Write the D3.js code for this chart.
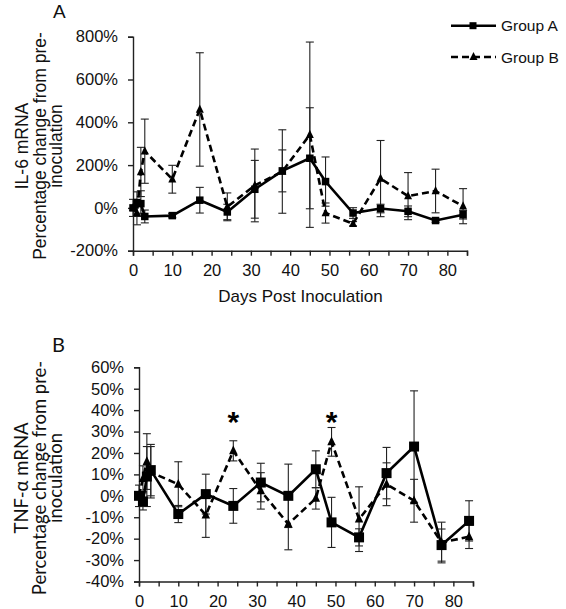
<!DOCTYPE html>
<html><head><meta charset="utf-8">
<script src="https://cdn.jsdelivr.net/npm/d3@7"></script>
<style>body{margin:0;background:#fff}svg{display:block}</style>
</head><body>
<svg id="c" width="566" height="609"></svg>
<script>
const days = [0,1,2,3,10,17,24,31,38,45,49,56,63,70,77,84];
const seriesNames = ["Group A","Group B"];
// Panel A: IL-6 mRNA (% change)
const il6A    = [0, 25, 20, -40, -36, 36, -19, 87, 173, 232, 123, -24, -3, -16, -59, -32];
const il6AErr = [40, 50, 60, 30, 10, 60, 36, 135, 98, 236, 115, 25, 20, 25, 8, 20];
const il6B    = [0, -24, 168, 265, 134, 460, 5, 105, 170, 342, -24, -74, 137, 55, 79, 8];
const il6BErr = [0, 55, 115, 150, 65, 265, 65, 170, 195, 433, 47, 10, 178, 110, 102, 82];
// Panel B: TNF-alpha mRNA (% change)
const tnfA    = [0, -2.6, 9, 12, -8.5, 0.8, -4.7, 6.2, 0, 12.4, -12.4, -19.4, 10.6, 23, -23, -11.7];
const tnfAErr = [5, 4, 14, 12, 4, 9.3, 8.1, 9, 14.8, 8.6, 11.7, 4, 12, 26, 7.5, 9.4];
const tnfB    = [0, 8, 16, 11, 5.4, -9, 21, 2.3, -13.2, -1.2, 25.2, -10.9, 5.4, -2.3, -21.8, -19.1];
const tnfBErr = [0, 6, 13, 12, 10.5, 10.4, 4.7, 8.5, 12, 5, 6.7, 15.1, 10, 10, 9.5, 5.5];
const sigDays = [24, 49];
const xTicks = [0,5,10,15,20,25,30,35,40,45,50,55,60,65,70,75,80,85];
const il6Ticks = [-200,0,200,400,600,800];
const tnfTicks = [-40,-30,-20,-10,0,10,20,30,40,50,60];

const svg = d3.select("#c");
const FONT = "'Liberation Sans', Arial, sans-serif";

function panel(opt){
  const x = d3.scaleLinear().domain([0,85]).range(opt.xr);
  const y = d3.scaleLinear().domain(opt.yd).range(opt.yr);
  const g = svg.append("g");
  const xa = g.append("g").attr("transform",`translate(0,${opt.yr[0]})`)
    .call(d3.axisBottom(x).tickValues(xTicks).tickSizeOuter(0).tickSize(5).tickPadding(9)
      .tickFormat(d => d % 10 === 0 ? d : ""));
  const ya = g.append("g").attr("transform",`translate(${opt.xr[0]},0)`)
    .call(d3.axisLeft(y).tickValues(opt.yticks).tickSizeOuter(0).tickSize(5).tickPadding(10)
      .tickFormat(d => d + "%"));
  [xa,ya].forEach(a=>{
    a.selectAll("path,line").attr("stroke","#222").attr("stroke-width",1.4);
    a.selectAll("text").attr("font-family",FONT).attr("font-size",16.5).attr("fill","#111");
  });
  const data = [
    {m:opt.a, e:opt.ae, dash:null, mark:"square"},
    {m:opt.b, e:opt.be, dash:"7,4", mark:"triangle"}
  ];
  data.forEach(s=>{
    days.forEach((d,i)=>{
      if(!s.e[i]) return;
      const cx = x(d), y1 = y(s.m[i]+s.e[i]), y2 = y(s.m[i]-s.e[i]);
      g.append("line").attr("x1",cx).attr("x2",cx).attr("y1",y1).attr("y2",y2)
        .attr("stroke","#222").attr("stroke-width",1.1);
      [y1,y2].forEach(yy=>g.append("line").attr("x1",cx-4).attr("x2",cx+4).attr("y1",yy).attr("y2",yy)
        .attr("stroke","#222").attr("stroke-width",1.1));
    });
  });
  const line = d3.line().x((d,i)=>x(days[i])).y(d=>y(d));
  data.slice().reverse().forEach(s=>{
    g.append("path").attr("d",line(s.m)).attr("fill","none").attr("stroke","#000")
      .attr("stroke-width",2.6).attr("stroke-dasharray",s.dash);
  });
  data.slice().reverse().forEach(s=>{
    days.forEach((d,i)=>{
      const cx = x(d), cy = y(s.m[i]);
      if(s.mark==="square"){
        const h = opt.sq/2;
        g.append("rect").attr("x",cx-h).attr("y",cy-h).attr("width",opt.sq).attr("height",opt.sq).attr("fill","#000");
      } else {
        const t = opt.tri;
        g.append("path").attr("d",`M${cx},${cy-t*0.62}L${cx+t/2},${cy+t*0.4}L${cx-t/2},${cy+t*0.4}Z`).attr("fill","#000");
      }
    });
  });
  return {x,y,g};
}

const pA = panel({xr:[133,467], yd:[-200,800], yr:[250.7,36.7], yticks:il6Ticks,
  a:il6A, ae:il6AErr, b:il6B, be:il6BErr, sq:7.5, tri:8});
const pB = panel({xr:[139,473], yd:[-40,60], yr:[581.5,367.3], yticks:tnfTicks,
  a:tnfA, ae:tnfAErr, b:tnfB, be:tnfBErr, sq:10, tri:8.5});

sigDays.forEach(d=>{
  svg.append("text").attr("x",pB.x(d)).attr("y",pB.y(30)).attr("text-anchor","middle")
    .attr("font-family",FONT).attr("font-size",30).attr("font-weight","bold").attr("fill","#000").text("*");
});

svg.append("text").attr("x",300.5).attr("y",302).attr("text-anchor","middle")
  .attr("font-family",FONT).attr("font-size",17).attr("fill","#111").text("Days Post Inoculation");

function yTitle(lines, cy, xs, font, size){
  lines.forEach((t,i)=>{
    svg.append("text").attr("transform",`translate(${xs[i]},${cy}) rotate(-90)`)
      .attr("text-anchor","middle").attr("font-family",font).attr("font-size",size)
      .attr("fill","#111").text(t);
  });
}
yTitle(["IL-6 mRNA","Percentage change from pre-","inoculation"],146,[28,45.5,62],FONT,17.5);
yTitle(["TNF-\u03b1 mRNA","Percentage change from pre-","inoculation"],478,[28,45.5,62],"Lato, 'Open Sans', sans-serif",18.5);

svg.append("text").attr("x",53).attr("y",18).attr("font-family",FONT).attr("font-size",19).attr("fill","#111").text("A");
svg.append("text").attr("x",52).attr("y",352).attr("font-family","Lato, sans-serif").attr("font-size",20).attr("fill","#111").text("B");

const leg = svg.append("g");
seriesNames.forEach((n,i)=>{
  const yy = [25.7,57][i];
  leg.append("line").attr("x1",451).attr("x2",496).attr("y1",yy).attr("y2",yy)
    .attr("stroke","#000").attr("stroke-width",2.6).attr("stroke-dasharray",i?"7,4":null);
  if(i===0) leg.append("rect").attr("x",469.5).attr("y",yy-3.5).attr("width",7).attr("height",7).attr("fill","#000");
  else leg.append("path").attr("d",`M473.5,${yy-5}L477.5,${yy+3}L469.5,${yy+3}Z`).attr("fill","#000");
  leg.append("text").attr("x",501).attr("y",yy+5.5).attr("font-family",FONT).attr("font-size",15.5)
    .attr("fill","#111").text(n);
});
</script>
</body></html>
